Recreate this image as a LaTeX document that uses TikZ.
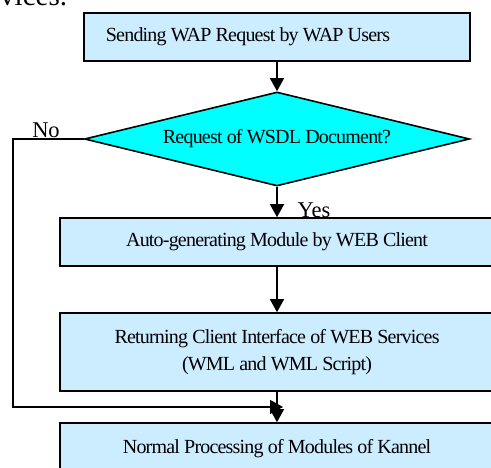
\documentclass[tikz,border=0pt]{standalone}
\usepackage{fontspec}
\setmainfont{Liberation Serif}
\newfontfamily\tightserif[LetterSpace=-4]{Liberation Serif}
\usetikzlibrary{arrows.meta,shapes.geometric}
\definecolor{boxblue}{HTML}{CCECFF}
\definecolor{decisioncyan}{HTML}{00FFFF}
\begin{document}
\begin{tikzpicture}[x=1pt,y=1pt,
  flowbox/.style={draw=black, line width=1.6pt, fill=boxblue, rectangle,
    inner sep=0pt, align=center, font=\tightserif\fontsize{20}{27}\selectfont},
  decision/.style={draw=black, line width=1.6pt, fill=decisioncyan, diamond,
    aspect=4.1, inner sep=0pt, font=\tightserif\fontsize{20}{22}\selectfont},
  conn/.style={line width=1.4pt, -{Triangle[width=14pt,length=13pt]}},
  edgelabel/.style={inner sep=0pt, anchor=base, font=\fontsize{22.5}{26}\selectfont}]
\useasboundingbox (0,0) rectangle (491,468);
\clip (0,0) rectangle (491,468);

% tail of the preceding sentence, cut by the page edge
\node[anchor=base west, inner sep=0pt, font=\fontsize{29}{32}\selectfont] (tail) at (0,462) {vices.};

% branch labels (drawn first so the boxes sit over them)
\node[edgelabel] (nolabel) at (46,330) {No};
\node[edgelabel] (yeslabel) at (314,250) {Yes};

% process steps
\node[flowbox, minimum width=386, minimum height=48] (send) at (277,431)
  {Sending WAP Request by WAP Users\hspace*{58pt}};
\node[decision, minimum width=385, minimum height=94] (dec) at (277,329)
  {Request of WSDL Document?};
\node[flowbox, minimum width=434, minimum height=48] (auto) at (277,226)
  {Auto-generating Module by WEB Client};
\node[flowbox, minimum width=434, minimum height=78] (ret) at (277,116)
  {Returning Client Interface of WEB Services\\(WML and WML Script)};
\node[flowbox, minimum width=434, minimum height=52] (norm) at (277,19)
  {Normal Processing of Modules of Kannel};

\coordinate (merge) at (283,61);

% connectors
\draw[conn] (send.south) -- (dec.north);
\draw[conn] (dec.south) -- (auto.north);
\draw[conn] (auto.south) -- (ret.north);
\draw[conn] (ret.south) -- (norm.north);
\draw[conn] (dec.west) -- (13,329) |- (merge);
\end{tikzpicture}
\end{document}
